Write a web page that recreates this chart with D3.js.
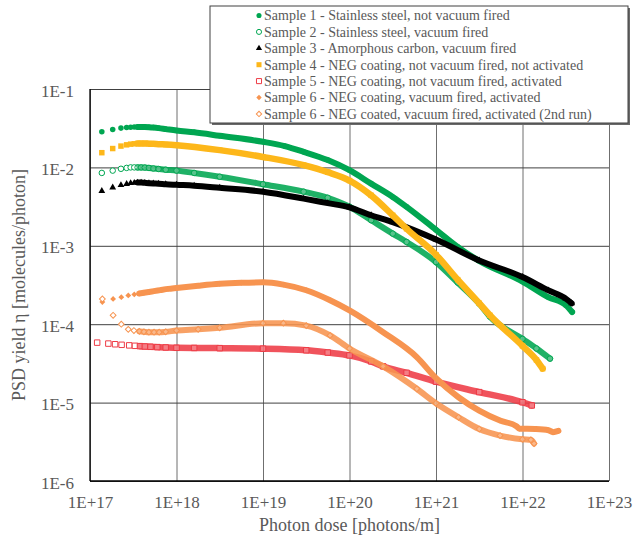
<!DOCTYPE html>
<html>
<head>
<meta charset="utf-8">
<script src="https://cdn.jsdelivr.net/npm/d3@7"></script>
<style>
  body { margin: 0; background: #ffffff; }
  svg { display: block; }
  text { font-family: "Liberation Serif", "Times New Roman", serif; }
</style>
</head>
<body>
<svg id="chart" width="633" height="539"></svg>
<script>
// Axis ticks
const xTicks = [1e17, 1e18, 1e19, 1e20, 1e21, 1e22, 1e23];
const xTickLabels = ["1E+17", "1E+18", "1E+19", "1E+20", "1E+21", "1E+22", "1E+23"];
const yTicks = [1e-6, 1e-5, 1e-4, 1e-3, 1e-2, 1e-1];
const yTickLabels = ["1E-6", "1E-5", "1E-4", "1E-3", "1E-2", "1E-1"];

const seriesNames = [
  "Sample 1 - Stainless steel, not vacuum fired",
  "Sample 2 - Stainless steel, vacuum fired",
  "Sample 3 - Amorphous carbon, vacuum fired",
  "Sample 4 - NEG coating, not vacuum fired, not activated",
  "Sample 5 - NEG coating, not vacuum fired, activated",
  "Sample 6 - NEG coating, vacuum fired, activated",
  "Sample 6 - NEG coated, vacuum fired, activated (2nd run)"
];

// [photon dose (photons/m), PSD yield (molecules/photon)]
const sample1 = [
  [1.37e17, 2.85e-2], [1.83e17, 3.05e-2], [2.28e17, 3.17e-2], [2.65e17, 3.22e-2],
  [2.95e17, 3.25e-2], [3.25e17, 3.27e-2], [3.55e17, 3.28e-2], [3.9e17, 3.28e-2],
  [4.3e17, 3.27e-2], [4.8e17, 3.25e-2], [5.4e17, 3.22e-2], [6.2e17, 3.17e-2],
  [7.5e17, 3.08e-2], [1e18, 2.95e-2], [1.6e18, 2.8e-2], [3.16e18, 2.53e-2],
  [1e19, 2.12e-2], [1.78e19, 1.87e-2], [2.95e19, 1.58e-2], [5.6e19, 1.24e-2],
  [1e20, 9.2e-3], [1.78e20, 6.2e-3], [3.16e20, 4.2e-3], [4.57e20, 3.14e-3],
  [1e21, 1.6e-3], [1.78e21, 9.7e-4], [3.16e21, 6.4e-4], [1e22, 3.5e-4],
  [2e22, 2.2e-4], [3.16e22, 1.75e-4], [3.75e22, 1.43e-4]
];
const sample2 = [
  [1.37e17, 8.5e-3], [1.83e17, 9.1e-3], [2.28e17, 9.6e-3], [2.65e17, 9.85e-3],
  [2.95e17, 1.0e-2], [3.25e17, 1.0e-2], [3.55e17, 1.0e-2], [3.9e17, 1.0e-2],
  [4.3e17, 9.95e-3], [4.8e17, 9.85e-3], [5.4e17, 9.7e-3], [6.2e17, 9.55e-3],
  [7.5e17, 9.35e-3], [1e18, 9.1e-3], [1.6e18, 8.5e-3], [3.16e18, 7.6e-3],
  [1e19, 6.1e-3], [2.95e19, 4.9e-3], [5.6e19, 4.1e-3], [1e20, 3.15e-3],
  [1.78e20, 2.12e-3], [3.16e20, 1.43e-3], [4.57e20, 1.12e-3], [1e21, 6.2e-4],
  [1.78e21, 3.4e-4], [3.16e21, 1.83e-4], [4.2e21, 1.25e-4], [1e22, 6.5e-5],
  [1.45e22, 4.9e-5], [2.08e22, 3.64e-5]
];
const sample3 = [
  [1.37e17, 5.0e-3], [1.83e17, 5.55e-3], [2.28e17, 5.95e-3], [2.65e17, 6.15e-3],
  [2.95e17, 6.3e-3], [3.25e17, 6.35e-3], [3.55e17, 6.4e-3], [3.9e17, 6.4e-3],
  [4.3e17, 6.35e-3], [4.8e17, 6.3e-3], [5.4e17, 6.25e-3], [6.2e17, 6.2e-3],
  [7.5e17, 6.1e-3], [1e18, 6.0e-3], [1.6e18, 5.85e-3], [3.16e18, 5.5e-3],
  [1e19, 4.9e-3], [2.95e19, 4.0e-3], [5.6e19, 3.5e-3], [1e20, 3.1e-3],
  [1.78e20, 2.45e-3], [3.16e20, 2.0e-3], [1e21, 1.2e-3], [3.16e21, 6.5e-4],
  [1e22, 4.0e-4], [2e22, 2.7e-4], [3.16e22, 2.12e-4], [3.7e22, 1.85e-4]
];
const sample4 = [
  [1.37e17, 1.54e-2], [1.83e17, 1.74e-2], [2.28e17, 1.87e-2], [2.65e17, 1.94e-2],
  [2.95e17, 1.98e-2], [3.25e17, 2.0e-2], [3.55e17, 2.02e-2], [3.9e17, 2.02e-2],
  [4.3e17, 2.02e-2], [4.8e17, 2.01e-2], [5.4e17, 2.0e-2], [6.2e17, 1.98e-2],
  [7.5e17, 1.96e-2], [1e18, 1.92e-2], [3.16e18, 1.66e-2], [1e19, 1.36e-2],
  [2.95e19, 1.07e-2], [5.6e19, 8.7e-3], [1e20, 6.8e-3], [1.78e20, 4.4e-3],
  [3.16e20, 2.45e-3], [4.57e20, 1.65e-3], [1e21, 7.7e-4], [1.78e21, 3.7e-4],
  [3.16e21, 1.85e-4], [4.2e21, 1.3e-4], [1e22, 5.3e-5], [1.45e22, 3.5e-5],
  [1.71e22, 2.71e-5]
];
const sample5 = [
  [1.21e17, 5.82e-5], [1.63e17, 5.66e-5], [1.95e17, 5.55e-5], [2.32e17, 5.46e-5],
  [2.84e17, 5.37e-5], [3.31e17, 5.3e-5], [3.78e17, 5.25e-5], [4.3e17, 5.2e-5],
  [5e17, 5.15e-5], [6e17, 5.1e-5], [7.5e17, 5.05e-5], [1e18, 5.0e-5],
  [1.6e18, 4.98e-5], [3.16e18, 4.95e-5], [1e19, 4.88e-5], [3.16e19, 4.65e-5],
  [5.6e19, 4.35e-5], [1e20, 4.0e-5], [1.78e20, 3.35e-5], [2.45e20, 2.9e-5],
  [4.57e20, 2.4e-5], [1e21, 1.85e-5], [3.16e21, 1.36e-5], [1e22, 1.01e-5],
  [1.28e22, 9.2e-6]
];
const sample6 = [
  [1.39e17, 1.92e-4], [1.85e17, 2.1e-4], [2.3e17, 2.21e-4], [2.77e17, 2.33e-4],
  [3.25e17, 2.4e-4], [3.7e17, 2.46e-4], [4.2e17, 2.52e-4], [4.8e17, 2.58e-4],
  [5.5e17, 2.64e-4], [6.5e17, 2.72e-4], [8e17, 2.82e-4], [1e18, 2.9e-4],
  [1.78e18, 3.1e-4], [3.16e18, 3.28e-4], [5.6e18, 3.38e-4], [1e19, 3.42e-4],
  [1.72e19, 3.2e-4], [3.16e19, 2.71e-4], [5.96e19, 2.02e-4], [1e20, 1.5e-4],
  [2.45e20, 7.9e-5], [6e20, 3.8e-5], [1e21, 2.05e-5], [1.82e21, 1.17e-5],
  [3.16e21, 7.9e-6], [5.5e21, 5.9e-6], [8.5e21, 5.0e-6], [9.2e21, 4.65e-6],
  [1.4e22, 4.6e-6], [2.0e22, 4.45e-6], [2.25e22, 4.2e-6], [2.6e22, 4.35e-6]
];
const sample6b = [
  [1.39e17, 2.1e-4], [1.85e17, 1.3e-4], [2.3e17, 1.0e-4], [2.77e17, 8.6e-5],
  [3.22e17, 8.3e-5], [3.72e17, 8.1e-5], [4.2e17, 8.0e-5], [4.8e17, 7.9e-5],
  [5.5e17, 7.9e-5], [6.3e17, 7.9e-5], [7.5e17, 8.0e-5], [1e18, 8.3e-5],
  [1.78e18, 8.6e-5], [3.16e18, 9.0e-5], [1e19, 1.03e-4], [1.72e19, 1.03e-4],
  [3.16e19, 9.6e-5], [5.96e19, 7.2e-5], [1e20, 4.9e-5], [2.45e20, 2.9e-5],
  [6e20, 1.5e-5], [1e21, 9.8e-6], [1.82e21, 6.5e-6], [3.16e21, 4.6e-6],
  [5.5e21, 3.8e-6], [1e22, 3.4e-6], [1.25e22, 3.35e-6], [1.36e22, 3.0e-6]
];

const seriesData = [sample1, sample2, sample3, sample4, sample5, sample6, sample6b];

// Marker appearance per series
const seriesStyle = [
  { color: "#00a651", shape: "circle",   filled: true  },
  { color: "#00a651", shape: "circle",   filled: false },
  { color: "#000000", shape: "triangle", filled: true  },
  { color: "#fdb71a", shape: "square",   filled: true  },
  { color: "#ee3b45", shape: "square",   filled: false },
  { color: "#f79450", shape: "diamond",  filled: true  },
  { color: "#f79450", shape: "diamond",  filled: false }
];

const FONT = "'Liberation Serif', 'Times New Roman', serif";
const plot = { left: 90, right: 609, top: 89, bottom: 481 };
const svg = d3.select("#chart");

const x = d3.scaleLog().domain([1e17, 1e23]).range([plot.left, plot.right]);
const y = d3.scaleLog().domain([1e-6, 1e-1]).range([plot.bottom, plot.top]);

const labelColor = "#595959";

// Gridlines and tick labels
const xAxis = svg.append("g")
  .attr("transform", `translate(0,${plot.bottom})`)
  .call(d3.axisBottom(x)
    .tickValues(xTicks)
    .tickFormat((d, i) => xTickLabels[i])
    .tickSize(-(plot.bottom - plot.top))
    .tickSizeOuter(0)
    .tickPadding(15));
xAxis.attr("font-family", FONT);
xAxis.select(".domain").remove();
xAxis.selectAll(".tick line").attr("stroke", "#6f6f6f").attr("stroke-width", 1);
xAxis.selectAll(".tick text")
  .attr("fill", labelColor).attr("font-size", 17).attr("font-family", FONT);

const yAxis = svg.append("g")
  .attr("transform", `translate(${plot.left},0)`)
  .call(d3.axisLeft(y)
    .tickValues(yTicks)
    .tickFormat((d, i) => yTickLabels[i])
    .tickSize(-(plot.right - plot.left))
    .tickSizeOuter(0)
    .tickPadding(16));
yAxis.attr("font-family", FONT);
yAxis.select(".domain").remove();
yAxis.selectAll(".tick line").attr("stroke", "#404040").attr("stroke-width", 1);
yAxis.selectAll(".tick text")
  .attr("fill", labelColor).attr("font-size", 17).attr("dy", "0.42em")
  .attr("font-family", FONT);

// Axis lines
svg.append("line")
  .attr("x1", plot.left).attr("x2", plot.left)
  .attr("y1", plot.top).attr("y2", plot.bottom)
  .attr("stroke", "#000").attr("stroke-width", 1.3);
svg.append("line")
  .attr("x1", plot.left).attr("x2", plot.right)
  .attr("y1", plot.bottom).attr("y2", plot.bottom)
  .attr("stroke", "#000").attr("stroke-width", 1.3);

// Marker shapes
function symbolPath(shape, scale = 1) {
  const gen = d3.symbol();
  if (shape === "circle") return gen.type(d3.symbolCircle).size(24 * scale)();
  if (shape === "square") return gen.type(d3.symbolSquare).size(30 * scale)();
  if (shape === "triangle") return gen.type(d3.symbolTriangle).size(20 * scale)();
  return gen.type(d3.symbolSquare).size(17 * scale)();
}
function shapeRotation(shape) { return shape === "diamond" ? " rotate(45)" : ""; }

// Dense measurements merge into a continuous band from this dose onward
const bandFrom = 3.5e17;
const band = d3.line().x(d => x(d[0])).y(d => y(d[1])).curve(d3.curveMonotoneX);

const plotLayer = svg.append("g");
seriesData.forEach((data, i) => {
  const st = seriesStyle[i];
  const g = plotLayer.append("g");
  g.append("path")
    .datum(data.filter(d => d[0] >= bandFrom))
    .attr("d", band)
    .attr("fill", "none")
    .attr("stroke", st.color)
    .attr("stroke-opacity", st.filled ? 1 : 0.88)
    .attr("stroke-width", st.shape === "square" ? 6.5 : 6)
    .attr("stroke-linejoin", "round")
    .attr("stroke-linecap", "round");
  g.selectAll("path.mk").data(data).join("path")
    .attr("class", "mk")
    .attr("d", symbolPath(st.shape))
    .attr("transform", d => `translate(${x(d[0])},${y(d[1])})${shapeRotation(st.shape)}`)
    .attr("fill", st.filled ? st.color : "#ffffff")
    .attr("fill-opacity", st.filled ? 1 : (d => d[0] >= bandFrom ? 0.25 : 1))
    .attr("stroke", st.filled ? "none" : st.color)
    .attr("stroke-width", 1);
});

// Axis titles
svg.append("text")
  .attr("x", (plot.left + plot.right) / 2).attr("y", 531)
  .attr("text-anchor", "middle").attr("font-size", 18).attr("fill", labelColor)
  .attr("font-family", FONT)
  .text("Photon dose [photons/m]");
svg.append("text")
  .attr("transform", `translate(25,${(plot.top + plot.bottom) / 2}) rotate(-90)`)
  .attr("text-anchor", "middle").attr("font-size", 18).attr("fill", labelColor)
  .attr("font-family", FONT)
  .text("PSD yield η [molecules/photon]");

// Legend
const lg = { x: 210, y: 6, w: 418, h: 117, rowH: 16.4 };
const legend = svg.append("g");
legend.append("rect")
  .attr("x", lg.x + 2).attr("y", lg.y + 2).attr("width", lg.w).attr("height", lg.h)
  .attr("fill", "#6a6a6a");
legend.append("rect")
  .attr("x", lg.x).attr("y", lg.y).attr("width", lg.w).attr("height", lg.h)
  .attr("fill", "#ffffff").attr("stroke", "#404040").attr("stroke-width", 1);
seriesNames.forEach((name, i) => {
  const st = seriesStyle[i];
  const cy = lg.y + 9.5 + i * lg.rowH;
  legend.append("path")
    .attr("d", symbolPath(st.shape, 0.85))
    .attr("transform", `translate(259,${cy})${shapeRotation(st.shape)}`)
    .attr("fill", st.filled ? st.color : "#ffffff")
    .attr("stroke", st.filled ? "none" : st.color)
    .attr("stroke-width", 1);
  legend.append("text")
    .attr("x", 264).attr("y", cy + 4.8)
    .attr("font-size", 14).attr("fill", labelColor)
    .attr("font-family", FONT)
    .text(name);
});
</script>
</body>
</html>
